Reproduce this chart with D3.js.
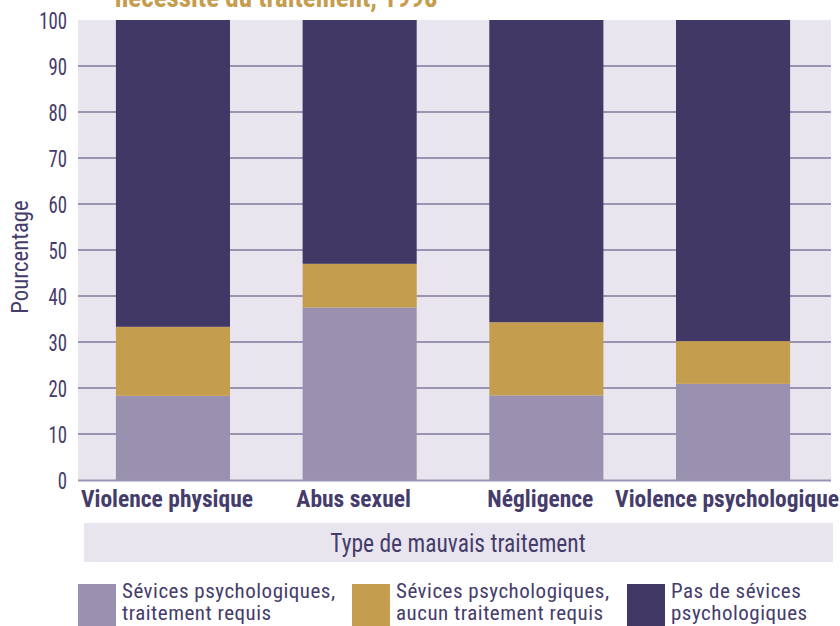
<!DOCTYPE html>
<html>
<head>
<meta charset="utf-8">
<script src="https://cdn.jsdelivr.net/npm/d3@7"></script>
<style>
  html, body { margin: 0; padding: 0; background: #fff; }
  svg text { font-family: "Liberation Sans Narrow", "Arial Narrow", "Roboto Condensed", Roboto, sans-serif; }
</style>
</head>
<body>
<svg class="chart" width="840" height="626"></svg>
<script>
const categories = ['Violence physique', 'Abus sexuel', 'Négligence', 'Violence psychologique'];
const requis = [18.3, 37.5, 18.4, 20.9];
const aucun = [15.0, 9.5, 15.9, 9.3];
const pas = [66.7, 53.0, 65.7, 69.8];
const yTicks = [0, 10, 20, 30, 40, 50, 60, 70, 80, 90, 100];
const seriesNames = ['Sévices psychologiques,\ntraitement requis', 'Sévices psychologiques,\naucun traitement requis', 'Pas de sévices\npsychologiques'];

const colors = ['#9a91b1', '#c49d4e', '#423865'];
const textColor = '#453c6b';

const chart = d3.select('.chart');

const plot = { left: 78, right: 831, top: 20, bottom: 480 };

const rows = categories.map((c, i) => ({ cat: c, requis: requis[i], aucun: aucun[i], pas: pas[i] }));
const keys = ['requis', 'aucun', 'pas'];
const stacked = d3.stack().keys(keys)(rows);

const x = d3.scaleBand()
    .domain(categories)
    .range([79.5, 826.5])
    .paddingInner(0.389)
    .paddingOuter(0.195);

const y = d3.scaleLinear()
    .domain([0, 100])
    .range([plot.bottom, plot.top]);

// title (cut off at top in the original)
chart.append('text')
    .attr('x', 115)
    .attr('y', 7)
    .attr('fill', '#c49d4e')
    .attr('font-weight', 'bold')
    .attr('font-size', 27)
    .text('nécessité du traitement, 1998');

// plot background
chart.append('rect')
    .attr('x', plot.left)
    .attr('y', plot.top)
    .attr('width', plot.right - plot.left)
    .attr('height', plot.bottom - plot.top)
    .attr('fill', '#e8e5ee');

// grid + y axis
const yAxis = d3.axisLeft(y)
    .tickValues(yTicks)
    .tickSize(0)
    .tickPadding(11);

const yAxisG = chart.append('g')
    .attr('transform', `translate(${plot.left},0)`)
    .call(yAxis);

yAxisG.select('.domain').remove();
yAxisG.selectAll('.tick text')
    .attr('x', null)
    .attr('transform', 'translate(-11,0) scale(0.78,1)')
    .attr('fill', textColor)
    .attr('font-size', 24)
    .attr('dy', '0.36em');

chart.append('g')
    .selectAll('line')
    .data(yTicks.filter(d => d > 0 && d < 100))
    .join('line')
    .attr('x1', plot.left)
    .attr('x2', plot.right)
    .attr('y1', d => y(d))
    .attr('y2', d => y(d))
    .attr('stroke', '#9b93b2')
    .attr('stroke-width', 2);

// bars
chart.append('g')
    .selectAll('g')
    .data(stacked)
    .join('g')
    .attr('fill', (d, i) => colors[i])
    .selectAll('rect')
    .data(d => d)
    .join('rect')
    .attr('x', d => x(d.data.cat))
    .attr('width', x.bandwidth())
    .attr('y', d => y(d[1]))
    .attr('height', d => y(d[0]) - y(d[1]));

// baseline
chart.append('line')
    .attr('x1', plot.left)
    .attr('x2', plot.right)
    .attr('y1', y(0) + 0.5)
    .attr('y2', y(0) + 0.5)
    .attr('stroke', '#9b93b2')
    .attr('stroke-width', 2);

// x axis labels
const xAxis = d3.axisBottom(x).tickSize(0).tickPadding(8);
const xAxisG = chart.append('g')
    .attr('transform', `translate(0,${plot.bottom})`)
    .call(xAxis);
xAxisG.select('.domain').remove();
xAxisG.selectAll('.tick text')
    .attr('fill', textColor)
    .attr('font-size', 23.5)
    .attr('font-weight', 'bold')
    .attr('dx', -6)
    .attr('dy', '0.8em');

// y axis label
chart.append('text')
    .attr('transform', 'translate(28,257) rotate(-90) scale(0.95,1)')
    .attr('text-anchor', 'middle')
    .attr('fill', textColor)
    .attr('font-size', 24)
    .text('Pourcentage');

// x axis title box
chart.append('rect')
    .attr('x', 84)
    .attr('y', 523)
    .attr('width', 749)
    .attr('height', 39)
    .attr('fill', '#e8e5ee');

chart.append('text')
    .attr('transform', 'translate(458,552) scale(0.94,1)')
    .attr('text-anchor', 'middle')
    .attr('fill', textColor)
    .attr('font-size', 25)
    .text('Type de mauvais traitement');

// legend
const legendX = [78, 352, 627];
const legend = chart.append('g')
    .selectAll('g')
    .data(seriesNames)
    .join('g')
    .attr('transform', (d, i) => `translate(${legendX[i]},584)`);

legend.append('rect')
    .attr('width', 38)
    .attr('height', 42)
    .attr('fill', (d, i) => colors[i]);

legend.selectAll('text')
    .data(d => d.split('\n'))
    .join('text')
    .attr('x', 44)
    .attr('y', (d, i) => 14 + i * 22)
    .attr('fill', textColor)
    .attr('font-size', 21)
    .attr('letter-spacing', 0.5)
    .text(d => d);
</script>
</body>
</html>
